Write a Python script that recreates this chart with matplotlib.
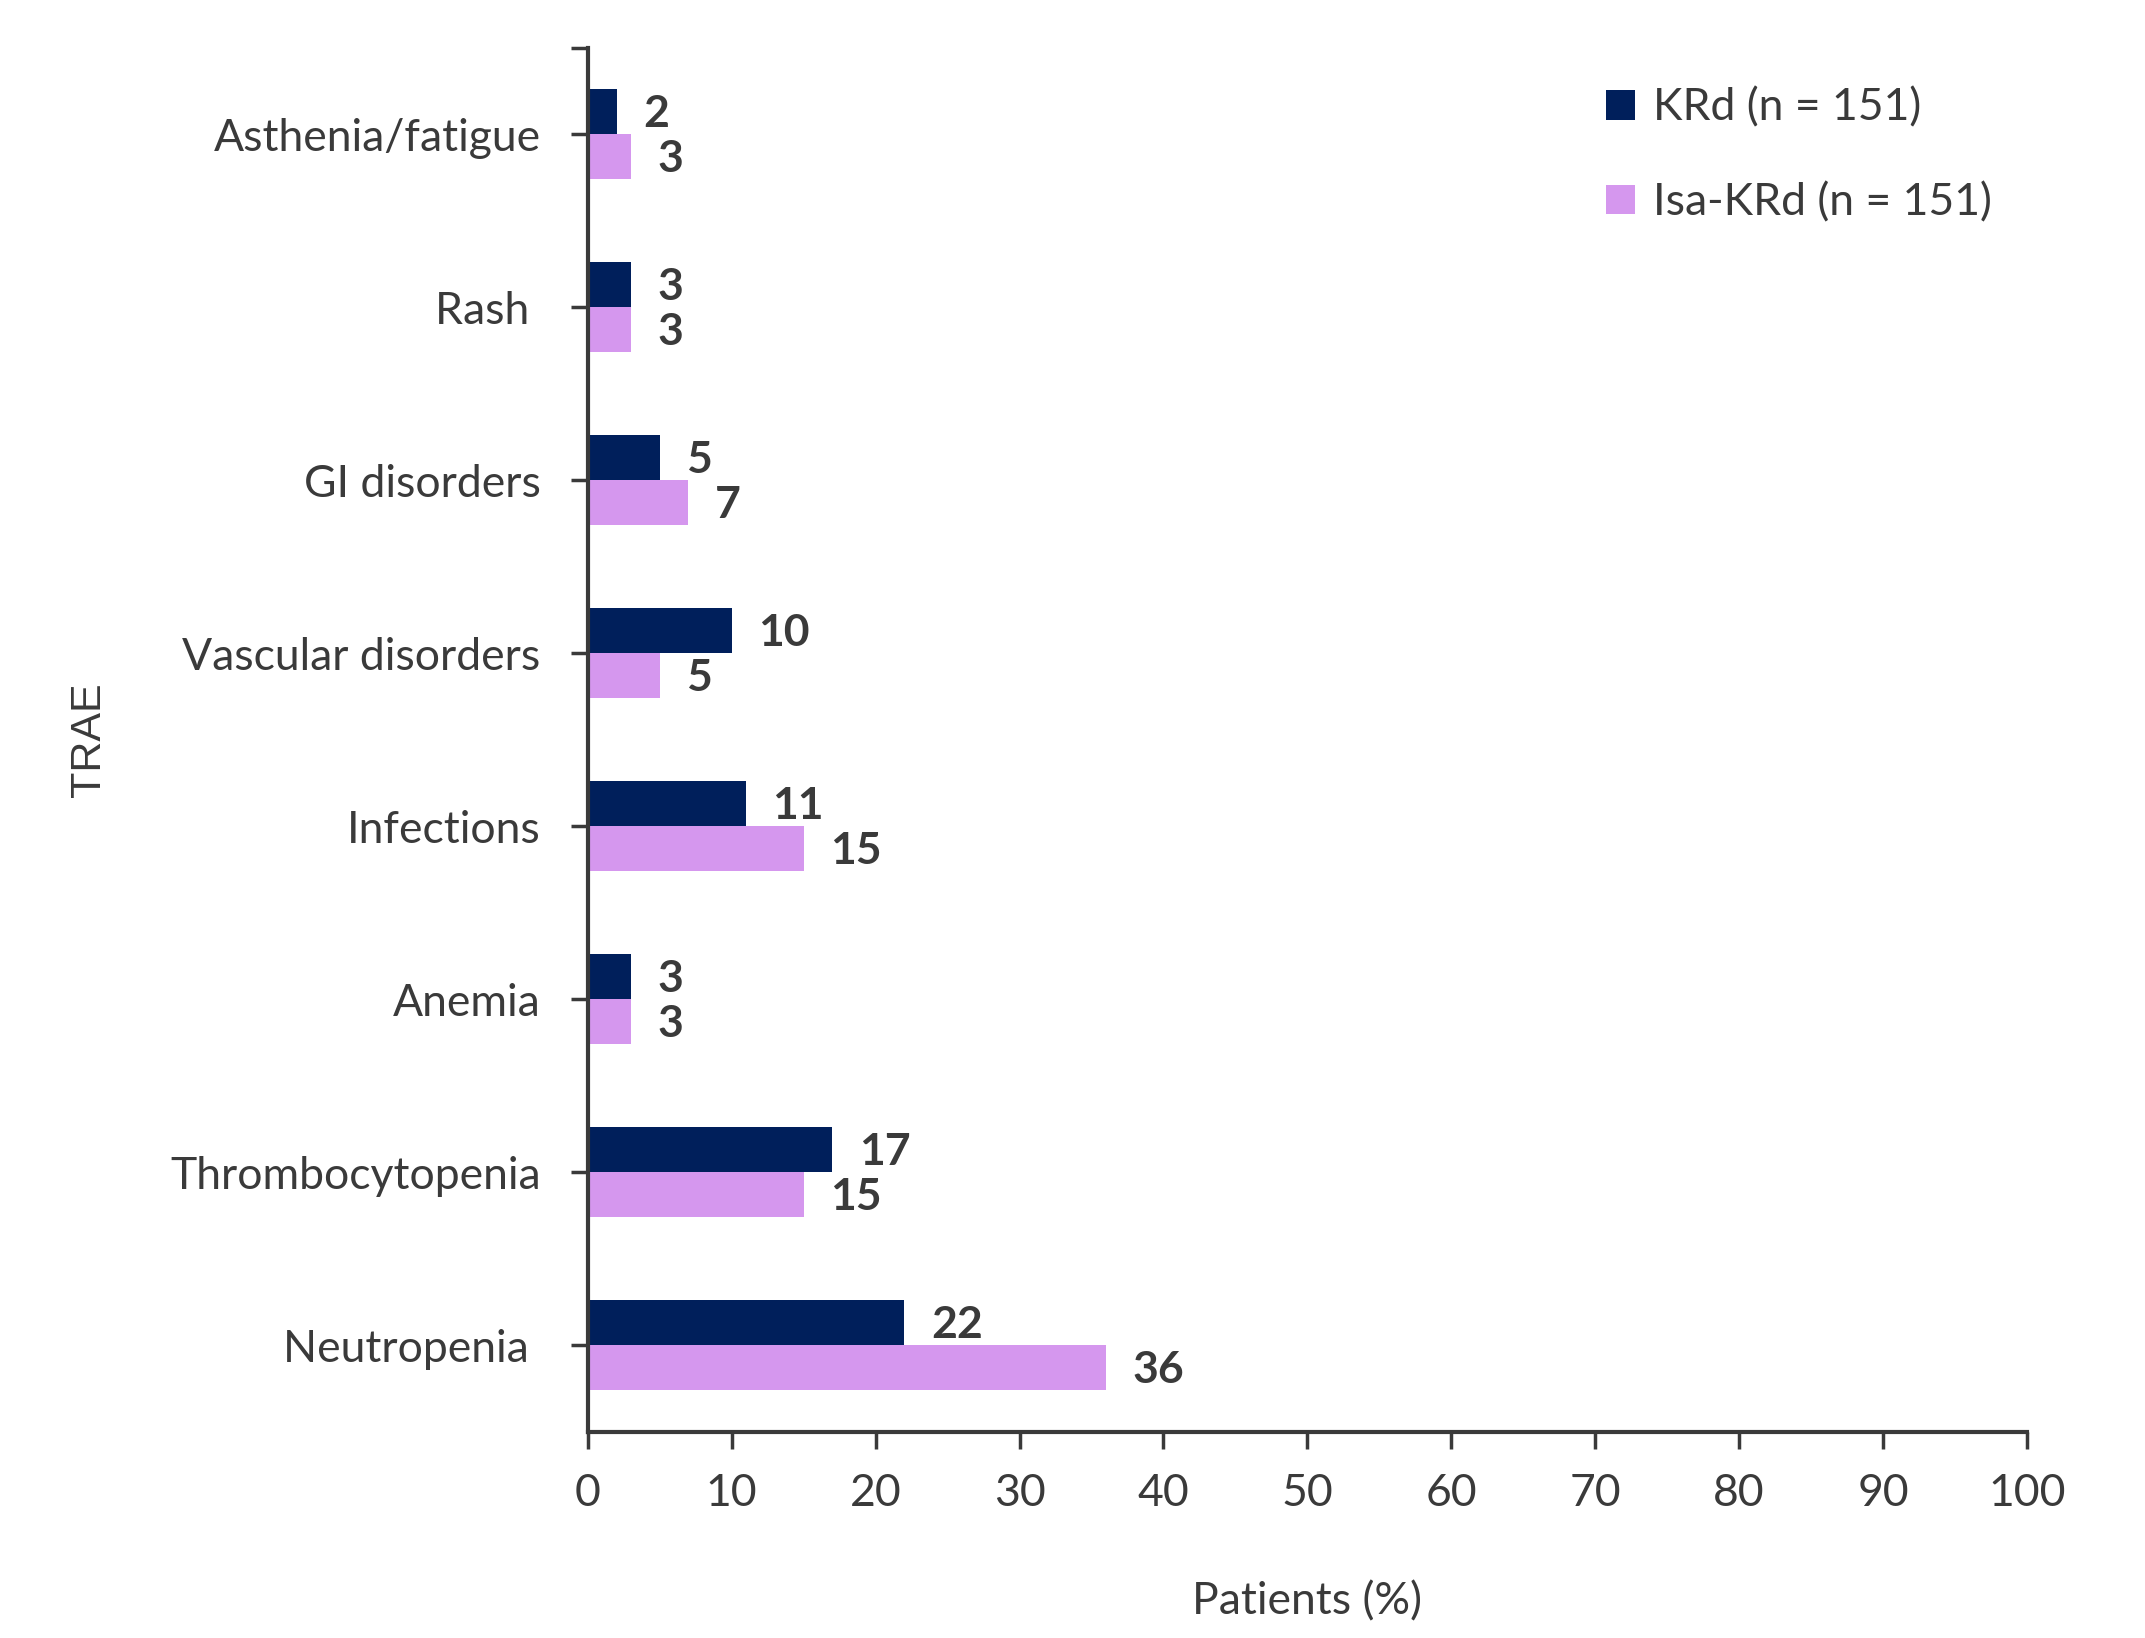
import matplotlib
matplotlib.use("Agg")
import matplotlib.pyplot as plt
import numpy as np

# data (bottom to top)
categories = ["Neutropenia ", "Thrombocytopenia", "Anemia", "Infections",
              "Vascular disorders", "GI disorders", "Rash ", "Asthenia/fatigue"]
krd = [22, 17, 3, 11, 10, 5, 3, 2]
isa_krd = [36, 15, 3, 15, 5, 7, 3, 3]
series_names = ["KRd (n = 151)", "Isa-KRd (n = 151)"]
xticks = list(range(0, 101, 10))

navy = "#001F5B"
pink = "#D597EE"
grey = "#3A3A3A"

plt.rcParams['font.family'] = ['Lato', 'DejaVu Sans']

fig = plt.figure(figsize=(21.45, 16.38), dpi=100)
ax = fig.add_axes([0.274, 0.126, 0.671, 0.845])

y = np.arange(len(categories))
h = 0.26
b1 = ax.barh(y + h / 2, krd, height=h, color=navy, label=series_names[0])
b2 = ax.barh(y - h / 2, isa_krd, height=h, color=pink, label=series_names[1])

# value labels
for bars, vals in ((b1, krd), (b2, isa_krd)):
    for bar, v in zip(bars, vals):
        ax.annotate(str(v), (v, bar.get_y() + bar.get_height() / 2),
                    xytext=(19, -2), textcoords="offset points",
                    ha="left", va="center", fontsize=32, fontweight="bold",
                    color=grey)

ax.set_xlim(0, 100)
ax.set_ylim(-0.5, len(categories) - 0.5)
ax.set_xticks(xticks)
ax.set_yticks(y)
ax.set_yticklabels(categories)
ax.set_yticks([len(categories) - 0.5], minor=True)

for s in ["top", "right"]:
    ax.spines[s].set_visible(False)
for s in ["left", "bottom"]:
    ax.spines[s].set_color(grey)
    ax.spines[s].set_linewidth(3)

ax.tick_params(axis="both", colors=grey, labelcolor=grey, labelsize=32,
               width=2.5, length=12)
ax.tick_params(axis="y", which="minor", length=12, width=2.5, color=grey)
ax.tick_params(axis="y", pad=22)
ax.tick_params(axis="x", pad=18)

ax.set_xlabel("Patients (%)", fontsize=32, color=grey, labelpad=48)
ax.set_ylabel("TRAE", fontsize=31, color=grey, labelpad=44,
              family=["Liberation Sans", "DejaVu Sans"])

ax.legend(loc="upper left", bbox_to_anchor=(0.68, 1.0), frameon=False,
          fontsize=32, handlelength=0.65, handleheight=0.65,
          labelspacing=1.2, handletextpad=0.4, labelcolor=grey)

fig.savefig("out.png", dpi=100)
